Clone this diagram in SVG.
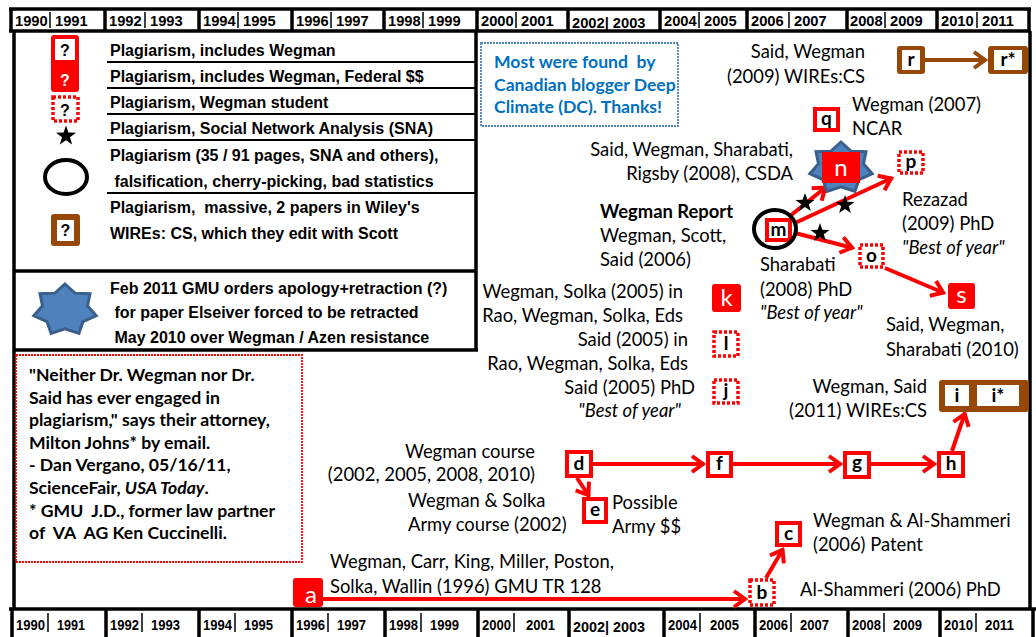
<svg xmlns="http://www.w3.org/2000/svg" xmlns:xlink="http://www.w3.org/1999/xlink" width="1036" height="637" viewBox="0 0 1036 637">
<defs>
<style>
.t{font-family:Lato,'Liberation Sans',sans-serif;font-size:18.4px;fill:#000}
.it{font-style:italic}
.bd{font-weight:bold}
.end{text-anchor:end}
.lg{font-family:'Liberation Sans',Arial,sans-serif;font-weight:bold;font-size:16px;fill:#000;white-space:pre}
.ax{font-family:'Liberation Sans',Arial,sans-serif;font-weight:bold;font-size:14.7px;fill:#000}
.axb{font-family:'Liberation Sans',Arial,sans-serif;font-weight:bold;font-size:14.5px;fill:#000}
.qt{font-family:Lato,'Liberation Sans',sans-serif;font-weight:bold;font-size:17.6px;fill:#000;white-space:pre}
.bl{font-family:Lato,'Liberation Sans',sans-serif;font-weight:bold;font-size:17.6px;fill:#0070c0;white-space:pre}
.fr{stroke:#000;stroke-width:3.5;fill:none}
.rl{stroke:#000;stroke-width:2;fill:none}
.tk{stroke:#000;stroke-width:1.5}
.arr{stroke:#f00;stroke-width:4;fill:none;marker-end:url(#ah)}
.arrb{stroke:#974806;stroke-width:4;fill:none;marker-end:url(#ahb)}
.box{fill:#fff;stroke:#f00;stroke-width:4}
.fil{fill:#f00}
.dot{fill:#fff;stroke:#f00;stroke-width:3.5;stroke-dasharray:3 2}
.brn{fill:#974806}
.wh{fill:#fff}
.lt{font-family:Lato,'Liberation Sans',sans-serif;font-weight:bold;font-size:19px;text-anchor:middle;fill:#000}
.wt{font-family:Lato,'Liberation Sans',sans-serif;font-size:24px;text-anchor:middle;fill:#fff}
.qm{font-family:'Liberation Sans',Arial,sans-serif;font-weight:bold;font-size:16px;text-anchor:middle}
.st7{fill:#4f81bd;stroke:#3a5f8b;stroke-width:3}
</style>
<marker id="ah" viewBox="-14 -10 17 20" markerWidth="17" markerHeight="20" refX="1" refY="0" orient="auto" markerUnits="userSpaceOnUse">
<path d="M-11,-8 L0,0 L-11,8" fill="none" stroke="#f00" stroke-width="4"/>
</marker>
<marker id="ahb" viewBox="-14 -10 17 20" markerWidth="17" markerHeight="20" refX="1" refY="0" orient="auto" markerUnits="userSpaceOnUse">
<path d="M-11,-8 L0,0 L-11,8" fill="none" stroke="#974806" stroke-width="4"/>
</marker>
<path id="star5" d="M0,-10 L2.35,-3.24 L9.51,-3.09 L3.8,1.24 L5.88,8.09 L0,4 L-5.88,8.09 L-3.8,1.24 L-9.51,-3.09 L-2.35,-3.24 Z" fill="#000"/>
<path id="star7" d="M0,-26 L10,-16.87 L25.02,-16.21 L22.46,-4.17 L31.2,5.79 L18.01,11.67 L13.88,23.43 L0,18.72 L-13.88,23.43 L-18.01,11.67 L-31.2,5.79 L-22.46,-4.17 L-25.02,-16.21 L-10,-16.87 Z"/>
</defs>

<rect width="1036" height="637" fill="#fff"/>

<g id="top-axis">
<line class="fr" x1="9" y1="9" x2="1031" y2="9"/>
<line class="fr" x1="9" y1="31" x2="1031" y2="31"/>
<g class="fr">
<line x1="11" y1="9" x2="11" y2="31"/><line x1="105" y1="9" x2="105" y2="31"/><line x1="199" y1="9" x2="199" y2="31"/><line x1="292" y1="9" x2="292" y2="31"/><line x1="384" y1="9" x2="384" y2="31"/><line x1="477" y1="9" x2="477" y2="31"/><line x1="568" y1="9" x2="568" y2="31"/><line x1="660" y1="9" x2="660" y2="31"/><line x1="747" y1="9" x2="747" y2="31"/><line x1="847" y1="9" x2="847" y2="31"/><line x1="937" y1="9" x2="937" y2="31"/><line x1="1029" y1="9" x2="1029" y2="31"/>
</g>
<g class="ax">
<text x="15" y="26">1990</text><text x="55" y="26">1991</text>
<text x="109" y="26">1992</text><text x="150" y="26">1993</text>
<text x="203" y="26">1994</text><text x="243" y="26">1995</text>
<text x="296" y="26">1996</text><text x="336" y="26">1997</text>
<text x="388" y="26">1998</text><text x="428" y="26">1999</text>
<text x="481" y="26">2000</text><text x="521" y="26">2001</text>
<text x="572" y="28">2002| 2003</text>
<text x="664" y="26">2004</text><text x="704" y="26">2005</text>
<text x="751" y="26">2006</text><text x="794" y="26">2007</text>
<text x="850" y="26">2008</text><text x="890" y="26">2009</text>
<text x="941" y="26">2010</text><text x="982" y="26">2011</text>
</g>
<g class="tk">
<line x1="50" y1="12" x2="50" y2="28"/><line x1="145" y1="12" x2="145" y2="28"/><line x1="238" y1="12" x2="238" y2="28"/><line x1="331" y1="12" x2="331" y2="28"/><line x1="423" y1="12" x2="423" y2="28"/><line x1="516" y1="12" x2="516" y2="28"/><line x1="699" y1="12" x2="699" y2="28"/><line x1="789" y1="12" x2="789" y2="28"/><line x1="885" y1="12" x2="885" y2="28"/><line x1="977" y1="12" x2="977" y2="28"/>
</g>
</g>

<g id="frame">
<line class="fr" x1="14" y1="31" x2="14" y2="609"/>
<line class="fr" x1="1030" y1="31" x2="1030" y2="609"/>
</g>

<g id="bottom-axis">
<line class="fr" x1="9" y1="609" x2="1036" y2="609"/>
<g class="fr">
<line x1="12" y1="609" x2="12" y2="637"/><line x1="106" y1="609" x2="106" y2="637"/><line x1="199" y1="609" x2="199" y2="637"/><line x1="292" y1="609" x2="292" y2="637"/><line x1="385" y1="609" x2="385" y2="637"/><line x1="478" y1="609" x2="478" y2="637"/><line x1="569" y1="609" x2="569" y2="637"/><line x1="664" y1="609" x2="664" y2="637"/><line x1="755" y1="609" x2="755" y2="637"/><line x1="848" y1="609" x2="848" y2="637"/><line x1="940" y1="609" x2="940" y2="637"/><line x1="1033" y1="609" x2="1033" y2="637"/>
</g>
<g class="axb">
<text x="16" y="630" textLength="29" lengthAdjust="spacingAndGlyphs">1990</text><text x="57" y="630" textLength="28" lengthAdjust="spacingAndGlyphs">1991</text>
<text x="110" y="630" textLength="29" lengthAdjust="spacingAndGlyphs">1992</text><text x="151" y="630" textLength="29" lengthAdjust="spacingAndGlyphs">1993</text>
<text x="203" y="630" textLength="29" lengthAdjust="spacingAndGlyphs">1994</text><text x="244" y="630" textLength="29" lengthAdjust="spacingAndGlyphs">1995</text>
<text x="296" y="630" textLength="29" lengthAdjust="spacingAndGlyphs">1996</text><text x="337" y="630" textLength="29" lengthAdjust="spacingAndGlyphs">1997</text>
<text x="389" y="630" textLength="29" lengthAdjust="spacingAndGlyphs">1998</text><text x="430" y="630" textLength="29" lengthAdjust="spacingAndGlyphs">1999</text>
<text x="482" y="630" textLength="29" lengthAdjust="spacingAndGlyphs">2000</text><text x="526" y="630" textLength="29" lengthAdjust="spacingAndGlyphs">2001</text>
<text x="573" y="632" textLength="72" lengthAdjust="spacingAndGlyphs">2002| 2003</text>
<text x="668" y="630" textLength="29" lengthAdjust="spacingAndGlyphs">2004</text><text x="710" y="630" textLength="29" lengthAdjust="spacingAndGlyphs">2005</text>
<text x="759" y="630" textLength="29" lengthAdjust="spacingAndGlyphs">2006</text><text x="800" y="630" textLength="29" lengthAdjust="spacingAndGlyphs">2007</text>
<text x="852" y="630" textLength="29" lengthAdjust="spacingAndGlyphs">2008</text><text x="893" y="630" textLength="29" lengthAdjust="spacingAndGlyphs">2009</text>
<text x="944" y="630" textLength="29" lengthAdjust="spacingAndGlyphs">2010</text><text x="985" y="630" textLength="29" lengthAdjust="spacingAndGlyphs">2011</text>
</g>
<g class="tk">
<line x1="48" y1="613" x2="48" y2="632"/><line x1="142" y1="613" x2="142" y2="632"/><line x1="235" y1="613" x2="235" y2="632"/><line x1="328" y1="613" x2="328" y2="632"/><line x1="421" y1="613" x2="421" y2="632"/><line x1="514" y1="613" x2="514" y2="632"/><line x1="700" y1="613" x2="700" y2="632"/><line x1="791" y1="613" x2="791" y2="632"/><line x1="884" y1="613" x2="884" y2="632"/><line x1="976" y1="613" x2="976" y2="632"/>
</g>
</g>

<g id="legend">
<line class="fr" x1="476" y1="31" x2="476" y2="351"/>
<line class="fr" x1="14" y1="271" x2="476" y2="271"/>
<line class="fr" x1="14" y1="350" x2="478" y2="350"/>
<g class="rl">
<line x1="107" y1="62" x2="476" y2="62"/><line x1="107" y1="88" x2="476" y2="88"/><line x1="107" y1="114" x2="476" y2="114"/><line x1="107" y1="140" x2="476" y2="140"/><line x1="107" y1="193" x2="476" y2="193"/>
</g>
<rect x="51" y="35" width="28" height="57" rx="3" class="fil"/>
<rect x="55" y="39" width="20" height="21" class="wh"/>
<text x="65" y="56" class="qm">?</text>
<text x="65" y="86" class="qm" fill="#fff">?</text>
<rect x="53" y="97" width="25" height="24" class="dot"/>
<text x="65" y="116" class="qm">?</text>
<use xlink:href="#star5" transform="translate(66,136) scale(1.05)"/>
<ellipse cx="66" cy="177" rx="21" ry="17" fill="none" stroke="#000" stroke-width="4"/>
<rect x="51" y="214" width="29" height="32" rx="3" class="brn"/>
<rect x="57" y="220" width="17" height="21" class="wh"/>
<text x="65.5" y="236" class="qm">?</text>
<use xlink:href="#star7" class="st7" transform="translate(65,310)"/>
<text class="lg" x="110" y="56">Plagiarism, includes Wegman</text>
<text class="lg" x="110" y="82">Plagiarism, includes Wegman, Federal $$</text>
<text class="lg" x="110" y="108">Plagiarism, Wegman student</text>
<text class="lg" x="110" y="134">Plagiarism, Social Network Analysis (SNA)</text>
<text class="lg" x="110" y="161">Plagiarism (35 / 91 pages, SNA and others),</text>
<text class="lg" x="110" y="187"> falsification, cherry-picking, bad statistics</text>
<text class="lg" x="110" y="213">Plagiarism,  massive, 2 papers in Wiley's</text>
<text class="lg" x="110" y="239">WIREs: CS, which they edit with Scott</text>
<text class="lg" x="110" y="294">Feb 2011 GMU orders apology+retraction (?)</text>
<text class="lg" x="110" y="318"> for paper Elseiver forced to be retracted</text>
<text class="lg" x="110" y="343"> May 2010 over Wegman / Azen resistance</text>
</g>

<g id="quote">
<rect x="16" y="355" width="286" height="207" fill="#fff" stroke="#f00" stroke-width="1.8" stroke-dasharray="2 1"/>
<text class="qt" x="29" y="381">"Neither Dr. Wegman nor Dr.</text>
<text class="qt" x="29" y="403.6">Said has ever engaged in</text>
<text class="qt" x="29" y="426.2">plagiarism," says their attorney,</text>
<text class="qt" x="29" y="448.8">Milton Johns* by email.</text>
<text class="qt" x="29" y="471.4">- Dan Vergano, 05/16/11,</text>
<text class="qt" x="29" y="494">ScienceFair, <tspan font-style="italic">USA Today</tspan>.</text>
<text class="qt" x="29" y="516.6">* GMU  J.D., former law partner</text>
<text class="qt" x="29" y="539.2">of  VA  AG Ken Cuccinelli.</text>
</g>

<g id="credit">
<rect x="481" y="43" width="197" height="83" fill="#fff" stroke="#4f81bd" stroke-width="1.8" stroke-dasharray="2 1"/>
<text class="bl" x="494" y="68">Most were found  by</text>
<text class="bl" x="494" y="91">Canadian blogger Deep</text>
<text class="bl" x="494" y="113">Climate (DC). Thanks!</text>
</g>

<g id="connectors">
<line class="arr" x1="323" y1="599" x2="746" y2="599"/>
<line class="arr" x1="766" y1="578" x2="783" y2="549"/>
<line class="arr" x1="593" y1="464" x2="704" y2="464"/>
<line class="arr" x1="733" y1="464" x2="841" y2="464"/>
<line class="arr" x1="871" y1="464" x2="935" y2="464"/>
<line class="arr" x1="577" y1="478" x2="589" y2="496"/>
<line class="arr" x1="952" y1="451" x2="965" y2="413"/>
<line class="arr" x1="790" y1="216" x2="826" y2="187"/>
<line class="arr" x1="795" y1="223" x2="892" y2="178"/>
<line class="arr" x1="795" y1="233" x2="853" y2="248"/>
<line class="arr" x1="885" y1="268" x2="944" y2="293"/>
<line class="arrb" x1="925" y1="60" x2="986" y2="60"/>
<use xlink:href="#star5" transform="translate(805,203)"/>
<use xlink:href="#star5" transform="translate(845,205)"/>
<use xlink:href="#star5" transform="translate(820,233)"/>
</g>

<g id="node-a"><rect x="293" y="578" width="30" height="29" rx="3" class="fil"/><text class="wt" x="311" y="603">a</text></g>
<g id="node-b"><rect x="750" y="580" width="24" height="25" class="dot"/><text class="lt" x="762" y="599">b</text></g>
<g id="node-c"><rect x="777" y="523" width="23" height="22" class="box"/><text class="lt" x="788.5" y="540">c</text></g>
<g id="node-d"><rect x="567" y="452" width="24" height="24" class="box"/><text class="lt" x="579" y="470">d</text></g>
<g id="node-e"><rect x="584" y="499" width="22" height="23" class="box"/><text class="lt" x="595" y="516">e</text></g>
<g id="node-f"><rect x="708" y="453" width="23" height="23" class="box"/><text class="lt" x="719.5" y="470">f</text></g>
<g id="node-g"><rect x="845" y="453" width="24" height="24" class="box"/><text class="lt" x="857" y="469">g</text></g>
<g id="node-h"><rect x="939" y="453" width="24" height="23" class="box"/><text class="lt" x="951" y="470">h</text></g>
<g id="node-i"><rect x="939" y="380" width="90" height="32" rx="3" class="brn"/><rect x="945" y="385" width="24" height="21" class="wh"/><rect x="977" y="385" width="42" height="21" class="wh"/><text class="lt" x="957" y="402">i</text><text class="lt" x="998" y="402">i*</text></g>
<g id="node-j"><rect x="714" y="380" width="24" height="23" class="dot"/><text class="lt" x="726" y="397">j</text></g>
<g id="node-k"><rect x="712" y="284" width="29" height="28" rx="3" class="fil"/><text class="wt" x="726.5" y="306">k</text></g>
<g id="node-l"><rect x="714" y="332" width="24" height="24" class="dot"/><text class="lt" x="726" y="350">l</text></g>
<g id="node-m"><rect x="767" y="220" width="23" height="20" class="box"/><text class="lt" x="778.5" y="236">m</text><ellipse cx="775" cy="229" rx="21" ry="19" fill="none" stroke="#000" stroke-width="4"/></g>
<g id="node-n"><use xlink:href="#star7" class="st7" transform="translate(841,168)"/><rect x="822" y="152" width="38" height="31" class="fil"/><text class="wt" x="841" y="176">n</text></g>
<g id="node-o"><rect x="860" y="245" width="23" height="22" class="dot"/><text class="lt" x="871.5" y="262">o</text></g>
<g id="node-p"><rect x="899" y="152" width="24" height="21" class="dot"/><text class="lt" x="911" y="168">p</text></g>
<g id="node-q"><rect x="815" y="109" width="23" height="21" class="box"/><text class="lt" x="826.5" y="125">q</text></g>
<g id="node-r"><rect x="897" y="46" width="28" height="28" rx="3" class="brn"/><rect x="902" y="50" width="18" height="20" class="wh"/><text class="lt" x="911" y="66">r</text></g>
<g id="node-rstar"><rect x="988" y="46" width="40" height="28" rx="3" class="brn"/><rect x="994" y="50" width="28" height="20" class="wh"/><text class="lt" x="1008" y="66">r*</text></g>
<g id="node-s"><rect x="948" y="283" width="27" height="26" rx="3" class="fil"/><text class="wt" x="961.5" y="303">s</text></g>

<g id="labels">
<text class="t end" x="865" y="58">Said, Wegman</text>
<text class="t end" x="865" y="83">(2009) WIREs:CS</text>
<text class="t" x="852" y="111">Wegman (2007)</text>
<text class="t" x="852" y="135">NCAR</text>
<text class="t end" x="793" y="156">Said, Wegman, Sharabati,</text>
<text class="t end" x="793" y="180">Rigsby (2008), CSDA</text>
<text class="t bd" x="600" y="218">Wegman Report</text>
<text class="t" x="600" y="242">Wegman, Scott,</text>
<text class="t" x="600" y="266">Said (2006)</text>
<text class="t" x="902" y="206">Rezazad</text>
<text class="t" x="902" y="230">(2009) PhD</text>
<text class="t it" x="902" y="254">"Best of year"</text>
<text class="t" x="760" y="271">Sharabati</text>
<text class="t" x="760" y="296">(2008) PhD</text>
<text class="t it" x="760" y="319">"Best of year"</text>
<text class="t" x="886" y="331">Said, Wegman,</text>
<text class="t" x="886" y="356">Sharabati (2010)</text>
<text class="t end" x="683" y="298">Wegman, Solka (2005) in</text>
<text class="t end" x="683" y="322">Rao, Wegman, Solka, Eds</text>
<text class="t end" x="688" y="346">Said (2005) in</text>
<text class="t end" x="688" y="370">Rao, Wegman, Solka, Eds</text>
<text class="t end" x="695" y="394">Said (2005) PhD</text>
<text class="t it end" x="681" y="417">"Best of year"</text>
<text class="t end" x="927" y="393">Wegman, Said</text>
<text class="t end" x="927" y="417">(2011) WIREs:CS</text>
<text class="t end" x="535" y="458">Wegman course</text>
<text class="t end" x="535" y="481">(2002, 2005, 2008, 2010)</text>
<text class="t" x="408" y="507">Wegman &amp; Solka</text>
<text class="t" x="408" y="531">Army course (2002)</text>
<text class="t" x="612" y="509">Possible</text>
<text class="t" x="612" y="533">Army $$</text>
<text class="t" x="813" y="527">Wegman &amp; Al-Shammeri</text>
<text class="t" x="813" y="551">(2006) Patent</text>
<text class="t" x="330" y="568">Wegman, Carr, King, Miller, Poston,</text>
<text class="t" x="330" y="593">Solka, Wallin (1996) GMU TR 128</text>
<text class="t" x="800" y="596">Al-Shammeri (2006) PhD</text>
</g>
</svg>
